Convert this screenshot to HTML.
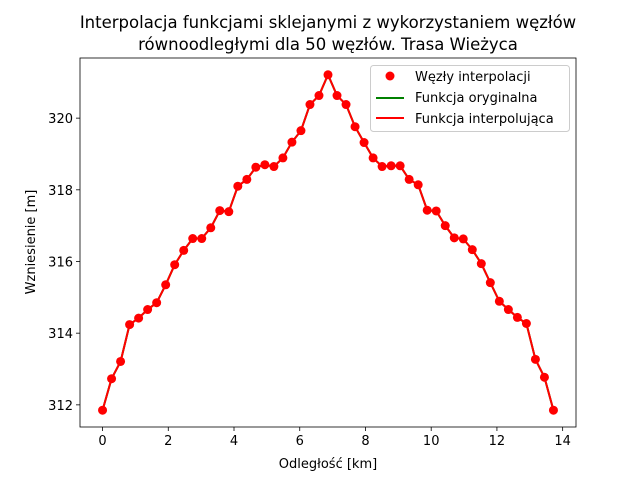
<!DOCTYPE html>
<html><head><meta charset="utf-8"><style>
body{margin:0;background:#fff}
svg{font-family:"DejaVu Sans","Liberation Sans",sans-serif}
</style></head><body>
<svg id="c" width="640" height="480"></svg>
<script>
const nodeCount = 51;
const maxDistance = 13.72;
const elevations = [311.85,312.73,313.21,314.24,314.42,314.66,314.85,315.35,315.91,316.31,316.64,316.64,316.94,317.42,317.39,318.10,318.29,318.63,318.70,318.65,318.89,319.33,319.65,320.38,320.63,321.21,320.63,320.38,319.76,319.32,318.89,318.65,318.67,318.67,318.29,318.14,317.43,317.41,317.00,316.66,316.63,316.33,315.94,315.41,314.89,314.66,314.44,314.27,313.27,312.77,311.85];
const xTicks = [0,2,4,6,8,10,12,14];
const yTicks = [312,314,316,318,320];
const NS="http://www.w3.org/2000/svg";
const svg=document.getElementById('c');
function mk(t,a,p){const e=document.createElementNS(NS,t);for(const k in a)e.setAttribute(k,a[k]);(p||svg).appendChild(e);return e;}
const L=80,R=576,T=58,B=427;
const xs=elevations.map((_,i)=>i*maxDistance/(nodeCount-1));
const xmin=Math.min(...xs),xmax=Math.max(...xs),xm=(xmax-xmin)*0.05;
const ymin=Math.min(...elevations),ymax=Math.max(...elevations),ym=(ymax-ymin)*0.05;
const X=v=>L+(v-(xmin-xm))/((xmax+xm)-(xmin-xm))*(R-L);
const Y=v=>B-(v-(ymin-ym))/((ymax+ym)-(ymin-ym))*(B-T);
let t=mk('text',{x:328,y:28,'text-anchor':'middle','font-size':16.5,fill:'#000'});t.textContent='Interpolacja funkcjami sklejanymi z wykorzystaniem węzłów';

t=mk('text',{x:328,y:50,'text-anchor':'middle','font-size':16.5,fill:'#000'});t.textContent='równoodległymi dla 50 węzłów. Trasa Wieżyca';

xTicks.forEach(v=>{const x=X(v);mk('line',{x1:x,x2:x,y1:B,y2:B+4,stroke:'#000','stroke-width':0.8});
 const e=mk('text',{x:x,y:B+18,'text-anchor':'middle','font-size':13,fill:'#000'});e.textContent=v;
 });
yTicks.forEach(v=>{const y=Y(v);mk('line',{x1:L-4,x2:L,y1:y,y2:y,stroke:'#000','stroke-width':0.8});
 const e=mk('text',{x:L-7,y:y+5,'text-anchor':'end','font-size':13,fill:'#000'});e.textContent=v;
 });
t=mk('text',{x:328,y:468,'text-anchor':'middle','font-size':13,fill:'#000'});t.textContent='Odległość [km]';

t=mk('text',{x:35,y:242,'text-anchor':'middle','font-size':13,fill:'#000',transform:'rotate(-90 35 242)'});t.textContent='Wzniesienie [m]';

const pts=xs.map((x,i)=>X(x)+','+Y(elevations[i])).join(' ');
let g=mk('polyline',{points:pts,fill:'none',stroke:'#008000','stroke-width':2});

g=mk('polyline',{points:pts,fill:'none',stroke:'#ff0000','stroke-width':2});

xs.forEach((x,i)=>{const c=mk('circle',{cx:X(x),cy:Y(elevations[i]),r:4.5,fill:'#ff0000'});
 });
mk('rect',{x:L,y:T,width:R-L,height:B-T,fill:'none',stroke:'#000','stroke-width':0.8});
const lg=mk('g',{});
mk('rect',{x:370.5,y:65.5,width:199,height:66,rx:3,fill:'#fff','fill-opacity':0.8,stroke:'#ccc'},lg);
mk('circle',{cx:390,cy:76,r:4.5,fill:'#ff0000'},lg);
mk('line',{x1:376,x2:404,y1:98,y2:98,stroke:'#008000','stroke-width':2},lg);
mk('line',{x1:376,x2:404,y1:118,y2:118,stroke:'#ff0000','stroke-width':2},lg);
[['Węzły interpolacji',81,'legend-entry-nodes'],['Funkcja oryginalna',102,'legend-entry-original'],['Funkcja interpolująca',123,'legend-entry-interpolating']].forEach(a=>{
 const e=mk('text',{x:415,y:a[1],'font-size':13,fill:'#000'},lg);e.textContent=a[0];
 });
</script>
</body></html>
